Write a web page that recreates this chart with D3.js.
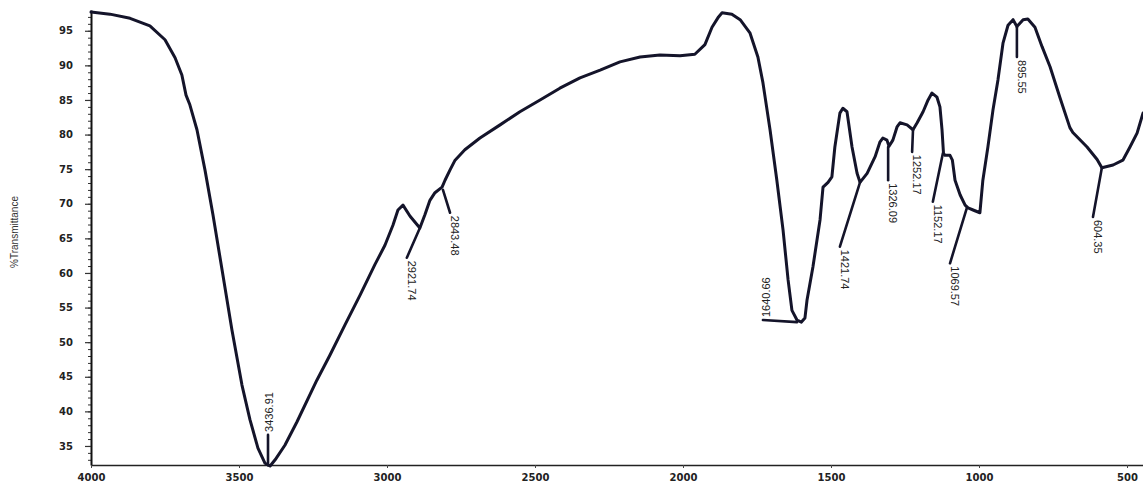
<!DOCTYPE html>
<html>
<head>
<meta charset="utf-8">
<script src="https://cdn.jsdelivr.net/npm/d3@7"></script>
<style>
  body { margin: 0; background: #fff; }
  svg { display: block; }
  .tick text { font-family: "DejaVu Sans", sans-serif; font-weight: bold; fill: #222; }
  .peak { font-family: "Liberation Sans Narrow", "Liberation Sans", sans-serif; font-size: 11px; fill: #222; }
</style>
</head>
<body>
<div id="vis"><svg></svg></div>
<script>
// spectrum trace, [wavenumber cm-1, %T]
const spectrum = [
  [4000,97.7],[3936,97.4],[3868,96.8],[3801,95.7],[3750,93.7],[3716,91.1],[3693,88.6],
  [3679,85.7],[3666,84.3],[3642,80.7],[3615,74.9],[3588,68.4],[3557,60.4],[3524,51.8],
  [3490,43.8],[3463,38.8],[3436,34.7],[3412,32.5],[3395,32.1],[3378,33.0],[3345,35.1],
  [3304,38.5],[3237,44.5],[3193,48.1],[3142,52.5],[3091,56.8],[3041,61.2],[3007,64.0],
  [2980,66.9],[2963,69.1],[2946,69.8],[2922,68.2],[2889,66.5],[2872,68.4],[2855,70.5],
  [2838,71.6],[2814,72.4],[2804,73.4],[2787,74.9],[2770,76.3],[2737,77.8],[2686,79.5],
  [2618,81.4],[2551,83.3],[2483,85.0],[2416,86.7],[2348,88.2],[2280,89.3],[2213,90.5],
  [2145,91.2],[2078,91.5],[2010,91.4],[1960,91.6],[1926,93.0],[1902,95.5],[1880,97.0],
  [1868,97.6],[1835,97.4],[1807,96.6],[1774,94.7],[1747,91.2],[1730,87.5],[1706,80.7],
  [1683,73.4],[1662,66.2],[1645,59.0],[1632,54.6],[1615,53.2],[1600,52.9],[1588,53.5],
  [1581,56.1],[1561,60.9],[1537,67.7],[1527,72.4],[1510,73.1],[1497,73.9],[1487,78.2],
  [1470,83.1],[1460,83.8],[1446,83.3],[1429,78.2],[1412,74.4],[1402,73.1],[1378,74.4],
  [1351,76.8],[1335,78.9],[1325,79.5],[1311,79.2],[1304,78.3],[1291,79.2],[1277,81.1],
  [1267,81.7],[1243,81.4],[1223,80.7],[1209,81.7],[1189,83.3],[1172,85.0],[1159,86.0],
  [1142,85.4],[1132,84.0],[1125,80.7],[1120,77.3],[1115,77.0],[1098,77.0],[1090,76.3],
  [1081,73.4],[1064,71.3],[1047,69.8],[1037,69.4],[1020,69.1],[997,68.7],[987,73.4],
  [970,78.2],[953,83.5],[936,87.9],[919,93.2],[902,95.8],[885,96.6],[872,95.6],
  [851,96.6],[835,96.7],[811,95.5],[787,92.7],[760,89.8],[727,85.4],[693,81.0],
  [683,80.3],[635,78.2],[601,76.4],[585,75.2],[547,75.6],[514,76.3],[490,78.2],
  [466,80.2],[446,83.1]
];

// peak annotations: text, marker start on the trace, marker end
const peakText = ["3436.91","2921.74","2843.48","1640.66","1421.74","1326.09",
                  "1252.17","1152.17","1069.57","895.55","604.35"];
const peakFrom = [[3402,32.2],[2889,66.5],[2811,72.0],[1615,52.9],[1402,73.1],[1307,78.2],
                  [1223,80.7],[1122,77.3],[1041,69.4],[872,95.5],[585,75.2]];
const peakTo   = [[3402,36.6],[2933,62.2],[2787,68.7],[1730,53.2],[1470,63.8],[1307,73.4],
                  [1226,77.5],[1156,70.3],[1098,61.4],[872,91.2],[615,68.1]];

const xTicks = [4000,3500,3000,2500,2000,1500,1000,500];
const yTicks = [35,40,45,50,55,60,65,70,75,80,85,90,95];
const yMinor = d3.range(33,98,1);

const W = 1143, H = 486;
const svg = d3.select("#vis").select("svg").attr("width", W).attr("height", H);

const x = d3.scaleLinear().domain([4000, 446]).range([91, 1143]);
const y = d3.scaleLinear().domain([32.25, 98]).range([465, 10]);

// minor y ticks
svg.append("g")
  .attr("transform", "translate(91,0)")
  .call(d3.axisLeft(y).tickValues(yMinor).tickSize(3).tickFormat(""))
  .call(g => g.select(".domain").remove())
  .selectAll("line").attr("stroke", "#333");

let yAxis = svg.append("g")
  .attr("transform", "translate(91,0)")
  .call(d3.axisLeft(y).tickValues(yTicks).tickSize(6).tickPadding(12).tickSizeOuter(0));
yAxis.select(".domain").attr("stroke", "#111").attr("stroke-width", 2);
yAxis.selectAll(".tick line").attr("stroke", "#333").attr("stroke-width", 1.2);
yAxis.selectAll("text").style("font-size", "10px");

let xAxis = svg.append("g")
  .attr("transform", "translate(0,465)")
  .call(d3.axisBottom(x).tickValues(xTicks).tickSize(3).tickPadding(6).tickSizeOuter(0)
    .tickFormat(d3.format("d")));
xAxis.select(".domain").attr("stroke", "#222").attr("stroke-width", 1.6);
xAxis.selectAll(".tick line").attr("stroke", "#444");
xAxis.selectAll("text").style("font-size", "10px");

svg.append("text")
  .attr("transform", "translate(18,232) rotate(-90)")
  .attr("text-anchor", "middle")
  .style("font-family", "'Liberation Sans Narrow', 'Liberation Sans', sans-serif")
  .style("font-size", "10px")
  .attr("fill", "#333")
  .text("%Transmittance");

// spectrum line
const line = d3.line().x(d => x(d[0])).y(d => y(d[1]));
svg.append("path")
  .datum(spectrum)
  .attr("d", line)
  .attr("fill", "none")
  .attr("stroke", "#14142a")
  .attr("stroke-width", 3)
  .attr("stroke-linejoin", "round")
  .attr("stroke-linecap", "round");

// peak markers and labels
peakText.forEach((t, i) => {
  const f = peakFrom[i], e = peakTo[i];
  svg.append("line")
    .attr("x1", x(f[0])).attr("y1", y(f[1]))
    .attr("x2", x(e[0])).attr("y2", y(e[1]))
    .attr("stroke", "#14142a").attr("stroke-width", 2.6).attr("stroke-linecap", "round");
  const up = e[1] > f[1] && Math.abs(y(e[1]) - y(f[1])) > 5;
  const side = Math.abs(y(e[1]) - y(f[1])) < 5; // horizontal marker, label goes upward
  let lx = x(e[0]), ly = y(e[1]);
  let rot = 90;
  if (up || side) { rot = -90; ly -= 3; lx += side ? 3 : 1; }
  else { ly += 3; lx += 5; }
  svg.append("text")
    .attr("class", "peak")
    .attr("transform", `translate(${lx},${ly}) rotate(${rot})`)
    .attr("dy", "0.35em")
    .text(t);
});
</script>
</body>
</html>
